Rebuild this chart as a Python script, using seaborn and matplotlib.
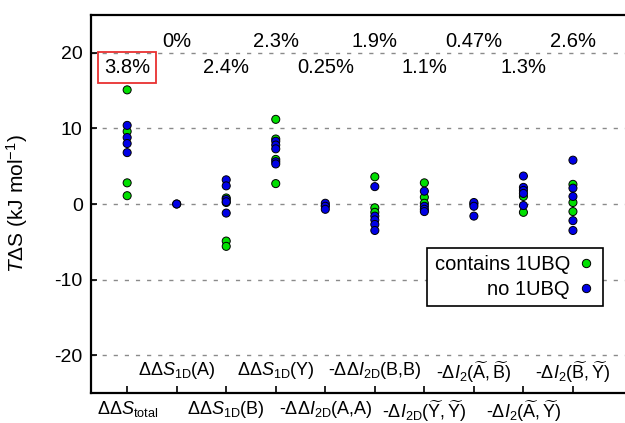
import numpy as np
import pandas as pd
import matplotlib
matplotlib.use("Agg")
import matplotlib.pyplot as plt
import seaborn as sns

# categories (x tick labels) and the percentage shown above each column
labels = [
    r"$\Delta\Delta S_\mathrm{total}$",
    r"$\Delta\Delta S_\mathrm{1D}$(A)",
    r"$\Delta\Delta S_\mathrm{1D}$(B)",
    r"$\Delta\Delta S_\mathrm{1D}$(Y)",
    r"-$\Delta\Delta I_\mathrm{2D}$(A,A)",
    r"-$\Delta\Delta I_\mathrm{2D}$(B,B)",
    r"-$\Delta I_\mathrm{2D}(\widetilde{\mathrm{Y}},\widetilde{\mathrm{Y}})$",
    r"-$\Delta I_2(\widetilde{\mathrm{A}},\widetilde{\mathrm{B}})$",
    r"-$\Delta I_2(\widetilde{\mathrm{A}},\widetilde{\mathrm{Y}})$",
    r"-$\Delta I_2(\widetilde{\mathrm{B}},\widetilde{\mathrm{Y}})$",
]
pcts = ["3.8%", "0%", "2.4%", "2.3%", "0.25%", "1.9%", "1.1%", "0.47%", "1.3%", "2.6%"]

# values, per category
contains_1ubq = [
    [15.1, 9.6, 2.8, 1.1],
    [0.0],
    [0.8, 0.2, -4.9, -5.6],
    [11.2, 8.6, 5.9, 2.7],
    [-0.2],
    [3.6, -0.5, -1.1],
    [2.8, 0.9, 0.1],
    [0.0],
    [1.0, -1.1],
    [2.6, 0.2, -1.0],
]
no_1ubq = [
    [10.4, 8.8, 8.0, 6.8],
    [0.0],
    [3.2, 2.4, 0.6, 0.3, -1.2],
    [8.3, 7.8, 7.3, 5.6, 5.3],
    [0.1, -0.3, -0.7],
    [2.3, -1.6, -2.1, -2.7, -3.5],
    [1.7, -0.3, -0.7, -1.0],
    [0.2, -0.3, -1.6],
    [3.7, 2.2, 1.8, 1.4, -0.2],
    [5.8, 2.1, 1.0, -2.2, -3.5],
]

rows = []
for group, values in [("contains 1UBQ", contains_1ubq), ("no 1UBQ", no_1ubq)]:
    for i, vals in enumerate(values):
        for v in vals:
            rows.append({"term": labels[i], "value": v, "group": group})
df = pd.DataFrame(rows)

sns.set_theme(style="white")
plt.rcParams["font.family"] = ["Liberation Sans", "DejaVu Sans"]
plt.rcParams["mathtext.fontset"] = "custom"
plt.rcParams["mathtext.rm"] = "Liberation Sans"
plt.rcParams["mathtext.it"] = "Liberation Sans:italic"
plt.rcParams["mathtext.bf"] = "Liberation Sans:bold"
for key in ["text.color", "axes.labelcolor", "xtick.color", "ytick.color"]:
    plt.rcParams[key] = "black"

fig = plt.figure(figsize=(6.25, 4.23), dpi=100)
ax = fig.add_axes([0.1456, 0.0709, 0.89, 0.8936])

palette = {"contains 1UBQ": "#00e000", "no 1UBQ": "#0000e6"}
sns.stripplot(data=df, x="term", y="value", hue="group", order=labels,
              hue_order=["contains 1UBQ", "no 1UBQ"], palette=palette,
              jitter=False, dodge=False, size=5.8, linewidth=0.7,
              edgecolor="black", ax=ax, legend=False)

ax.set_xlim(-0.73, 10.5)
ax.set_ylim(-25, 25)
ax.set_yticks([-20, -10, 0, 10, 20])
ax.set_yticklabels(["-20", "-10", "0", "10", "20"], fontsize=14)
for y in [-20, -10, 0, 10, 20]:
    ax.axhline(y, color="#8a8a8a", lw=1, linestyle=(0, (3, 5)), zorder=0)

ax.set_xticks(range(len(labels)))
ax.set_xticklabels(labels, fontsize=13)
for i, tick in enumerate(ax.xaxis.get_major_ticks()):
    tick.set_pad(-24 if i % 2 else 4)
ax.tick_params(axis="x", direction="in", length=5, width=1.2, bottom=True)
ax.tick_params(axis="y", direction="in", length=4, width=1.2, left=True, pad=6)
ax.set_xlabel("")
ax.set_ylabel(r"$T\Delta$S (kJ mol$^{-1}$)", fontsize=15)
ax.yaxis.set_label_coords(-0.11, 0.5)

for side in ["left", "bottom", "top"]:
    ax.spines[side].set_color("black")
    ax.spines[side].set_linewidth(1.6)
ax.spines["right"].set_visible(False)

# percentages above each column, alternating rows
for i, p in enumerate(pcts):
    y = 21.5 if i % 2 else 18.0
    kw = {}
    if i == 0:
        kw["bbox"] = dict(boxstyle="square,pad=0.3", fc="none", ec="#e83030", lw=1.3)
    ax.text(i, y, p, ha="center", va="center", fontsize=14.5, **kw)

handles = [
    plt.Line2D([], [], marker="o", ls="", color=palette[g], markeredgecolor="black",
               markeredgewidth=0.7, markersize=6)
    for g in ["contains 1UBQ", "no 1UBQ"]
]
leg = ax.legend(handles, ["contains 1UBQ", "no 1UBQ"], markerfirst=False,
                loc="upper right", bbox_to_anchor=(0.965, 0.414),
                bbox_transform=fig.transFigure, borderaxespad=0, fontsize=14.5,
                fancybox=False, framealpha=1, edgecolor="black", handletextpad=0.3,
                handlelength=1.0, borderpad=0.35, labelspacing=0.3)
leg.get_frame().set_linewidth(1.2)

fig.savefig("out.png", dpi=100)
